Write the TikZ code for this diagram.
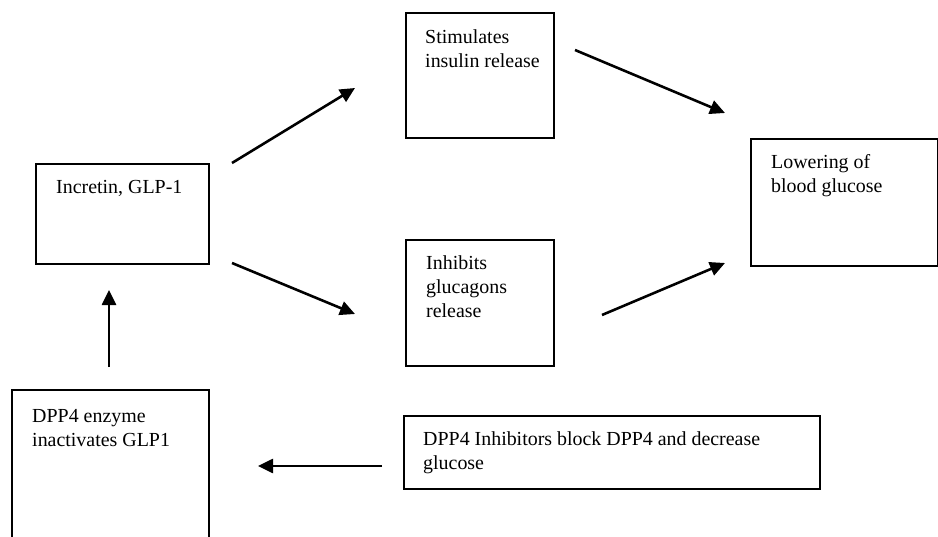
\documentclass[tikz,border=0pt]{standalone}
\usepackage{fontspec}
\setmainfont{Liberation Serif}
\usetikzlibrary{calc,positioning,arrows.meta}

\begin{document}
\begin{tikzpicture}[x=0.03cm,y=-0.03cm,
    box/.style={draw,line width=1.3pt,anchor=north west,inner sep=0pt},
    txt/.style={anchor=north west,inner sep=0pt,align=left,font=\fontsize{17}{20.5}\selectfont},
    arr/.style={line width=2.2pt,-{Triangle[length=4.5mm,width=4.2mm]}}]
        % Frame
        \useasboundingbox (0,0) rectangle (938,537);
        \clip (0,0) rectangle (938,537);

        % Boxes
        \node[box,minimum width=173*0.03cm,minimum height=100*0.03cm] (incretin) at (35,163) {};
        \node[box,minimum width=148*0.03cm,minimum height=125*0.03cm] (stim) at (405,12) {};
        \node[box,minimum width=148*0.03cm,minimum height=126*0.03cm] (inhib) at (405,239) {};
        \node[box,minimum width=187*0.03cm,minimum height=127*0.03cm] (lower) at (750,138) {};
        \node[box,minimum width=197*0.03cm,minimum height=175*0.03cm] (dppenz) at (11,389) {};
        \node[box,minimum width=416*0.03cm,minimum height=73*0.03cm] (dppinh) at (403,415) {};

        % Texts
        \node[txt] (incretintxt) at ($(incretin.north west)+(21,17)$) {Incretin, GLP-1};
        \node[txt] (stimtxt) at ($(stim.north west)+(20,17)$) {Stimulates\\insulin release};
        \node[txt] (inhibtxt) at ($(inhib.north west)+(21,16)$) {Inhibits\\glucagons\\release};
        \node[txt] (lowertxt) at ($(lower.north west)+(21,16)$) {Lowering of\\blood glucose};
        \node[txt] (dppenztxt) at ($(dppenz.north west)+(21,20)$) {DPP4 enzyme\\inactivates GLP1};
        \node[txt] (dppinhtxt) at ($(dppinh.north west)+(20,16)$) {DPP4 Inhibitors block DPP4 and decrease\\glucose};

        % Arrow ends
        \coordinate (incretin-up) at (232,163);
        \coordinate (stim-in) at (355,88);
        \coordinate (stim-out) at (575,50);
        \coordinate (lower-in1) at (725,113);
        \coordinate (incretin-down) at (232,263);
        \coordinate (inhib-in) at (355,314);
        \coordinate (inhib-out) at (602,315);
        \coordinate (lower-in2) at (725,263);
        \coordinate (dppenz-out) at (109,367);
        \coordinate (incretin-in) at (109,290);
        \coordinate (dppinh-out) at (382,466);
        \coordinate (dppenz-in) at (258,466);

        % Arrows
        \draw[arr] (incretin-up) -- (stim-in);
        \draw[arr] (stim-out) -- (lower-in1);
        \draw[arr] (incretin-down) -- (inhib-in);
        \draw[arr] (inhib-out) -- (lower-in2);
        \draw[arr] (dppenz-out) -- (incretin-in);
        \draw[arr] (dppinh-out) -- (dppenz-in);
\end{tikzpicture}
\end{document}
